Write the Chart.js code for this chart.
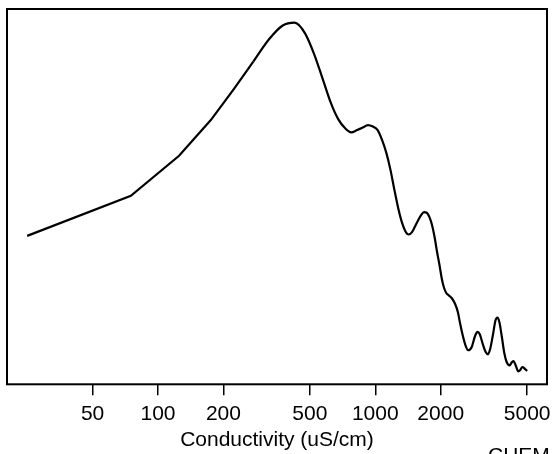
<!DOCTYPE html>
<html>
<head>
<meta charset="utf-8">
<title>Conductivity density</title>
<script src="https://cdn.jsdelivr.net/npm/chart.js@4/dist/chart.umd.min.js"></script>
<style>
  html, body { margin: 0; padding: 0; background: #fff; }
</style>
</head>
<body>
<canvas id="densityChart" width="553" height="454"></canvas>
<script>
// y in relative height units (unlabelled axis)
const conductivity = [
  25, 75, 125, 175, 225, 275, 325, 375, 425, 475, 525, 575, 625, 675, 725, 775,
  825, 875, 925, 975, 1025, 1075, 1125, 1175, 1225, 1275, 1325, 1375, 1425, 1475,
  1525, 1575, 1625, 1675, 1725, 1775, 1825, 1875, 1925, 1975, 2025, 2075, 2125,
  2175, 2250, 2325, 2400, 2450, 2525, 2600, 2675, 2775, 2875, 2950, 3025, 3125,
  3225, 3300, 3375, 3475, 3575, 3650, 3725, 3825, 3925, 4025, 4150, 4250, 4325,
  4425, 4550, 4650, 4750, 4875, 5000
];
const density = [
  148.3, 188.3, 228.3, 264, 296, 322.6, 345, 358.5, 361.3, 350.7, 329, 304, 281, 265, 256, 251.7,
  254, 256.5, 259, 257.5, 254, 244, 231, 214, 194, 176, 162, 153, 149.7, 152,
  158, 164, 169, 172, 171.5, 167, 159, 147, 132, 119, 105, 96, 91,
  89, 86, 80.7, 72, 62, 49, 39, 34, 37, 48, 52.3, 50, 40,
  32, 30, 35, 49, 64, 66.7, 62, 47, 31, 22, 19, 22, 23.3,
  19, 13, 14.5, 17.3, 15.5, 13.3
];
const tickValues = [50, 100, 200, 500, 1000, 2000, 5000];

// the low end is drawn as straight segments in the reference, the rest is smooth
const straightUpTo = 275;

const fontFamily = '"Liberation Sans", Arial, sans-serif';

// box around the plot region + the clipped caption at the bottom right
const frame = {
  id: 'frame',
  afterDraw(chart) {
    const { ctx, chartArea: a } = chart;
    ctx.save();
    ctx.strokeStyle = '#000';
    ctx.lineWidth = 2;
    ctx.strokeRect(a.left, a.top, a.right - a.left, a.bottom - a.top);
    ctx.fillStyle = '#000';
    ctx.font = '21px ' + fontFamily;
    ctx.textBaseline = 'top';
    ctx.fillText('CHEM', 488, 446);
    ctx.restore();
  }
};

const points = conductivity.map((c, i) => ({ x: c, y: density[i] }));
const lowPart = points.filter(p => p.x <= straightUpTo);
const highPart = points.filter(p => p.x >= straightUpTo);

const lineStyle = {
  borderColor: '#000',
  borderWidth: 2.2,
  pointRadius: 0,
  fill: false
};

new Chart(document.getElementById('densityChart'), {
  type: 'line',
  data: {
    datasets: [
      { ...lineStyle, data: lowPart, tension: 0 },
      { ...lineStyle, data: highPart, cubicInterpolationMode: 'monotone' }
    ]
  },
  options: {
    responsive: false,
    animation: false,
    layout: { autoPadding: false, padding: { left: 7, right: 6, top: 9, bottom: 0 } },
    plugins: { legend: { display: false }, tooltip: { enabled: false } },
    scales: {
      x: {
        type: 'logarithmic',
        min: 20.19,
        max: 6168,
        afterBuildTicks: scale => {
          scale.ticks = tickValues.map(v => ({ value: v }));
        },
        // the 5000 label may hang past the frame, don't shrink the plot for it
        afterFit: scale => {
          scale.paddingLeft = 0;
          scale.paddingRight = 0;
        },
        ticks: {
          autoSkip: false,
          maxRotation: 0,
          padding: 6,
          color: '#000',
          font: { family: fontFamily, size: 21 },
          callback: v => String(v)
        },
        grid: {
          drawOnChartArea: false,
          drawTicks: true,
          tickLength: 11,
          color: '#000',
          lineWidth: 1.5
        },
        border: { display: false },
        title: {
          display: true,
          text: 'Conductivity (uS/cm)',
          color: '#000',
          font: { family: fontFamily, size: 21 },
          padding: { top: -5.2, bottom: 1.5 }
        }
      },
      y: {
        display: false,
        min: 0,
        max: 375
      }
    }
  },
  plugins: [frame]
});
</script>
</body>
</html>
